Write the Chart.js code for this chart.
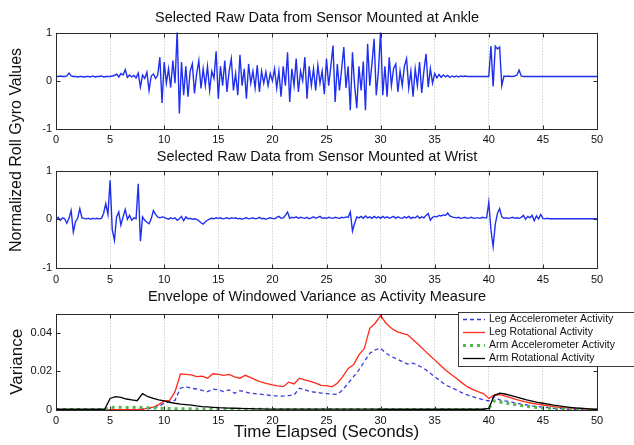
<!DOCTYPE html>
<html><head><meta charset="utf-8">
<script src="https://cdn.jsdelivr.net/npm/chart.js@4.4.1/dist/chart.umd.min.js"></script>
<style>
html,body{margin:0;padding:0;background:#fff;}
body{width:634px;height:445px;position:relative;overflow:hidden;font-family:"Liberation Sans",Arial,sans-serif;}
canvas{position:absolute;left:0;}
#ylab{position:absolute;left:-104px;top:140px;width:240px;height:20px;line-height:20px;text-align:center;transform:rotate(-90deg);transform-origin:50% 50%;white-space:nowrap;font-size:16px;color:#111;}
</style></head>
<body>
<canvas id="c1" width="634" height="150" style="top:0px"></canvas>
<canvas id="c2" width="634" height="142" style="top:146px"></canvas>
<canvas id="c3" width="634" height="157" style="top:288px"></canvas>
<div id="ylab"></div>
<script>
// ---------- data ----------
const titles = ["Selected Raw Data from Sensor Mounted at Ankle",
                "Selected Raw Data from Sensor Mounted at Wrist",
                "Envelope of Windowed Variance as Activity Measure"];
const xTitle = "Time Elapsed (Seconds)";
const yTitleRaw = "Normalized Roll Gyro Values";
const yTitleVar = "Variance";
const rawStep = 0.2;   // seconds between raw samples
const varStep = 0.5;   // seconds between variance samples

// ankle roll gyro, one row per second (t, t+.2, t+.4, t+.6, t+.8)
const ankle = [
 0.09,0.09,0.10,0.09,0.09,
 0.10,0.16,0.10,0.09,0.09,
 0.08,0.09,0.09,0.08,0.09,
 0.09,0.08,0.10,0.08,0.09,
 0.09,0.10,0.08,0.09,0.09,
 0.09,0.10,0.11,0.14,0.08,
 0.15,0.12,0.23,0.07,0.12,
 0.08,0.11,0.06,0.16,-0.13,
 0.12,0.05,0.18,-0.20,0.10,
 0.14,0.05,0.12,0.49,-0.46,
 0.39,-0.05,0.25,-0.14,0.42,
 -0.05,1.05,-0.68,0.39,-0.30,
 0.30,-0.33,0.20,0.35,-0.26,
 0.15,0.42,-0.16,0.25,-0.10,
 0.30,-0.20,0.20,0.05,0.61,
 -0.37,0.30,-0.10,0.42,-0.23,
 0.20,0.46,-0.20,0.15,-0.30,
 0.54,-0.10,0.25,-0.37,0.35,
 -0.05,0.20,-0.15,0.32,-0.23,
 0.20,-0.05,0.18,-0.10,0.15,
 0.00,0.25,-0.15,0.20,-0.33,
 0.30,-0.10,0.59,-0.44,0.25,
 -0.10,0.46,-0.23,0.20,0.00,
 0.49,-0.37,0.30,-0.10,0.25,
 -0.20,0.32,-0.05,0.20,-0.28,
 0.46,-0.10,0.30,0.73,-0.44,
 0.35,-0.20,0.25,0.70,-0.15,
 0.30,-0.61,0.59,-0.10,-0.57,
 0.30,-0.20,0.40,-0.61,0.77,
 -0.10,0.35,0.87,-0.30,0.20,
 1.05,-0.30,0.30,-0.33,0.49,
 -0.10,0.25,0.35,-0.23,0.20,
 -0.10,0.30,0.46,-0.15,0.20,
 -0.33,0.25,-0.10,0.39,-0.25,
 0.20,0.56,-0.13,0.25,-0.05,
 0.15,0.06,0.13,0.07,0.12,
 0.08,0.11,0.07,0.10,0.08,
 0.10,0.08,0.10,0.09,0.10,
 0.09,0.09,0.09,0.09,0.09,
 0.09,0.09,0.09,0.09,0.09,
 0.09,0.72,-0.12,0.72,0.66,
 0.70,-0.10,0.10,0.09,0.10,
 0.09,0.09,0.10,0.12,0.22,
 0.10,0.09,0.09,0.09,0.09,
 0.09,0.09,0.09,0.09,0.09,
 0.09,0.09,0.09,0.09,0.09,
 0.09,0.09,0.09,0.09,0.09,
 0.09,0.09,0.09,0.09,0.09,
 0.09,0.09,0.09,0.09,0.09,
 0.09,0.09,0.09,0.09,0.09,
 0.09
];

// wrist roll gyro, one row per second
const wrist = [
 0.00,0.04,-0.02,0.03,0.01,
 -0.08,0.02,0.18,-0.26,-0.05,
 0.02,0.22,0.03,0.02,0.01,
 0.02,0.00,0.02,0.01,0.02,
 0.01,0.02,0.12,0.32,0.10,
 0.80,-0.22,-0.43,0.05,0.15,
 -0.12,0.05,0.20,0.00,0.08,
 -0.02,0.03,0.01,0.73,-0.45,
 0.05,-0.02,-0.06,-0.09,0.01,
 0.18,0.10,0.05,0.03,0.05,
 0.04,0.02,0.00,0.03,0.01,
 0.03,-0.02,0.01,0.06,-0.03,
 0.05,0.01,0.02,0.00,0.01,
 0.00,-0.03,-0.07,-0.10,-0.05,
 -0.02,0.01,0.02,0.01,0.03,
 0.02,0.03,0.01,0.02,0.03,
 0.01,0.03,0.02,0.03,0.01,
 0.02,0.00,0.02,0.03,0.01,
 0.02,0.03,0.01,0.02,0.04,
 0.01,0.02,0.00,0.02,0.03,
 0.02,0.01,0.04,0.06,0.02,
 0.03,0.08,0.15,0.02,0.04,
 0.03,0.05,0.02,0.04,0.03,
 0.02,0.04,0.01,0.03,0.05,
 0.02,0.04,0.06,0.02,0.03,
 0.02,0.04,0.03,0.02,0.04,
 0.03,0.02,0.04,0.03,0.05,
 0.04,0.15,-0.24,-0.08,0.05,
 0.03,0.06,0.02,0.07,0.03,
 0.05,0.02,0.06,0.03,0.05,
 0.02,0.06,0.03,0.05,0.02,
 0.04,0.06,0.02,0.05,0.03,
 0.02,0.05,0.03,0.06,0.02,
 0.04,0.03,0.07,0.02,0.05,
 0.03,0.08,0.12,-0.02,0.04,
 0.06,0.05,0.08,0.07,0.09,
 0.08,0.13,0.07,0.05,0.04,
 0.03,0.04,0.02,0.03,0.04,
 0.02,0.03,0.04,0.02,0.03,
 0.03,0.02,0.04,0.03,0.03,
 0.35,-0.22,-0.56,-0.10,0.12,
 0.22,0.05,0.02,0.03,0.02,
 0.03,0.04,0.02,0.03,0.02,
 0.04,0.08,0.00,0.06,0.03,
 0.08,-0.03,0.07,0.01,0.10,
 0.02,0.01,0.02,0.01,0.01,
 0.01,0.01,0.01,0.01,0.01,
 0.01,0.01,0.01,0.01,0.01,
 0.01,0.01,0.01,0.01,0.01,
 0.01,0.01,0.01,0.01,0.01,
 0.01
];

// windowed variance envelopes, one row per 5 seconds (0.5 s steps)
const legAcc = [
 0.0001,0.0001,0.0001,0.0001,0.0001,0.0001,0.0001,0.0001,0.0001,0.0001,
 0.0001,0.0001,0.0001,0.0001,0.0001,0.0002,0.0003,0.0006,0.0010,0.0020,
 0.0035,0.0043,0.0050,0.0113,0.0121,0.0113,0.0109,0.0102,0.0095,0.0108,
 0.0105,0.0095,0.0104,0.0087,0.0100,0.0093,0.0087,0.0084,0.0081,0.0078,
 0.0074,0.0073,0.0072,0.0075,0.0078,0.0113,0.0105,0.0095,0.0092,0.0088,
 0.0085,0.0082,0.0081,0.0104,0.0139,0.0173,0.0208,0.0251,0.0294,0.0312,
 0.0320,0.0294,0.0277,0.0265,0.0251,0.0238,0.0243,0.0230,0.0216,0.0195,
 0.0173,0.0152,0.0130,0.0117,0.0104,0.0090,0.0078,0.0069,0.0060,0.0053,
 0.0047,0.0069,0.0052,0.0047,0.0043,0.0035,0.0030,0.0026,0.0021,0.0018,
 0.0014,0.0012,0.0009,0.0007,0.0005,0.0004,0.0003,0.0002,0.0002,0.0001,
 0.0001
];
const legRot = [
 0.0002,0.0002,0.0002,0.0002,0.0002,0.0002,0.0002,0.0002,0.0002,0.0002,
 0.0002,0.0002,0.0002,0.0002,0.0002,0.0003,0.0005,0.0010,0.0015,0.0028,
 0.0047,0.0050,0.0095,0.0187,0.0185,0.0182,0.0173,0.0176,0.0165,0.0188,
 0.0185,0.0180,0.0185,0.0172,0.0165,0.0180,0.0168,0.0155,0.0144,0.0137,
 0.0130,0.0125,0.0121,0.0144,0.0135,0.0165,0.0156,0.0148,0.0139,0.0128,
 0.0126,0.0120,0.0139,0.0173,0.0216,0.0234,0.0286,0.0320,0.0424,0.0450,
 0.0490,0.0450,0.0424,0.0407,0.0398,0.0390,0.0364,0.0340,0.0312,0.0285,
 0.0260,0.0233,0.0208,0.0185,0.0165,0.0142,0.0121,0.0107,0.0095,0.0085,
 0.0060,0.0078,0.0080,0.0072,0.0064,0.0055,0.0047,0.0041,0.0035,0.0030,
 0.0026,0.0022,0.0017,0.0014,0.0012,0.0010,0.0009,0.0007,0.0005,0.0004,
 0.0003
];
const armAcc = [
 0.0003,0.0003,0.0003,0.0003,0.0003,0.0003,0.0003,0.0003,0.0003,0.0003,
 0.0013,0.0015,0.0014,0.0013,0.0012,0.0015,0.0013,0.0012,0.0011,0.0010,
 0.0009,0.0008,0.0007,0.0007,0.0006,0.0006,0.0005,0.0005,0.0005,0.0004,
 0.0004,0.0004,0.0004,0.0004,0.0004,0.0004,0.0004,0.0004,0.0004,0.0004,
 0.0003,0.0003,0.0003,0.0003,0.0003,0.0003,0.0003,0.0003,0.0003,0.0003,
 0.0003,0.0003,0.0003,0.0003,0.0003,0.0003,0.0003,0.0003,0.0003,0.0003,
 0.0003,0.0003,0.0003,0.0003,0.0003,0.0003,0.0003,0.0003,0.0003,0.0003,
 0.0003,0.0003,0.0003,0.0003,0.0003,0.0003,0.0003,0.0003,0.0003,0.0003,
 0.0008,0.0047,0.0042,0.0037,0.0031,0.0027,0.0023,0.0019,0.0016,0.0013,
 0.0011,0.0009,0.0008,0.0006,0.0005,0.0004,0.0004,0.0003,0.0003,0.0003,
 0.0003
];
const armRot = [
 0.0004,0.0004,0.0004,0.0004,0.0004,0.0004,0.0004,0.0004,0.0004,0.0004,
 0.0060,0.0069,0.0065,0.0057,0.0052,0.0048,0.0085,0.0069,0.0060,0.0052,
 0.0047,0.0040,0.0035,0.0031,0.0028,0.0025,0.0021,0.0018,0.0016,0.0014,
 0.0012,0.0011,0.0010,0.0009,0.0008,0.0007,0.0007,0.0006,0.0006,0.0005,
 0.0005,0.0005,0.0005,0.0005,0.0005,0.0005,0.0005,0.0005,0.0005,0.0005,
 0.0005,0.0005,0.0005,0.0005,0.0005,0.0005,0.0005,0.0005,0.0005,0.0005,
 0.0004,0.0004,0.0004,0.0004,0.0004,0.0004,0.0004,0.0004,0.0004,0.0004,
 0.0004,0.0004,0.0004,0.0004,0.0004,0.0004,0.0004,0.0004,0.0004,0.0004,
 0.0008,0.0075,0.0087,0.0083,0.0076,0.0068,0.0060,0.0052,0.0046,0.0040,
 0.0035,0.0030,0.0025,0.0021,0.0017,0.0014,0.0011,0.0009,0.0007,0.0005,
 0.0004
];
const seriesLabels = ["Leg Accelerometer Activity","Leg Rotational Activity",
                      "Arm Accelerometer Activity","Arm Rotational Activity"];

document.getElementById('ylab').textContent = yTitleRaw;

// ---------- drawing ----------
const FONT = '"Liberation Sans", Arial, Helvetica, sans-serif';
const toXY = (arr, step) => arr.map((v, i) => ({x: +(i * step).toFixed(2), y: v}));

const boxPlugin = {
  id: 'matlabBox',
  afterDraw(chart) {
    const {ctx, chartArea: a, scales: {x, y}} = chart;
    ctx.save();
    ctx.strokeStyle = '#2a2a2a'; ctx.lineWidth = 1; ctx.setLineDash([]);
    const L = Math.round(a.left) + 0.5, T = Math.round(a.top) + 0.5,
          R = Math.round(a.right) + 0.5, B = Math.round(a.bottom) + 0.5;
    ctx.strokeRect(L, T, R - L, B - T);
    ctx.beginPath();
    x.ticks.forEach(t => {
      const px = Math.round(x.getPixelForValue(t.value)) + 0.5;
      ctx.moveTo(px, B); ctx.lineTo(px, B - 4);
      ctx.moveTo(px, T); ctx.lineTo(px, T + 4);
    });
    y.ticks.forEach(t => {
      const py = Math.round(y.getPixelForValue(t.value)) + 0.5;
      ctx.moveTo(L, py); ctx.lineTo(L + 4, py);
      ctx.moveTo(R, py); ctx.lineTo(R - 4, py);
    });
    ctx.stroke();
    ctx.restore();
  }
};

const legendPlugin = {
  id: 'innerLegend',
  afterDraw(chart) {
    const ctx = chart.ctx;
    const x0 = 458, y0 = 24, h = 54;
    ctx.save();
    ctx.fillStyle = '#fff'; ctx.fillRect(x0, y0, 220, h);
    ctx.strokeStyle = '#3a3a3a'; ctx.lineWidth = 1; ctx.setLineDash([]);
    ctx.strokeRect(x0 + 0.5, y0 + 0.5, 220, h);
    chart.data.datasets.forEach((ds, i) => {
      const yy = y0 + 7.5 + i * 13;
      ctx.strokeStyle = ds.borderColor; ctx.lineWidth = ds.borderWidth;
      ctx.setLineDash(ds.borderDash || []);
      ctx.beginPath(); ctx.moveTo(x0 + 5, yy); ctx.lineTo(x0 + 27, yy); ctx.stroke();
      ctx.setLineDash([]);
      ctx.fillStyle = '#111'; ctx.font = '10.5px ' + FONT; ctx.textBaseline = 'middle';
      ctx.fillText(ds.label, x0 + 31, yy);
    });
    ctx.restore();
  }
};

function makeOptions(c) {
  return {
    responsive: false, animation: false, events: [],
    layout: {padding: 0},
    plugins: {
      legend: {display: false}, tooltip: {enabled: false},
      title: {display: true, text: c.title, color: '#111',
              font: {family: FONT, size: 14.5, weight: 'normal', lineHeight: 1.2},
              padding: {top: c.tpt, bottom: c.tpb}}
    },
    scales: {
      x: {type: 'linear', min: 0, max: 50,
          ticks: {stepSize: 5, color: '#111', font: {family: FONT, size: 11}, padding: c.xpad,
                  maxRotation: 0, autoSkip: false},
          grid: {display: true, drawTicks: false, color: '#bdbdbd', lineWidth: 1},
          border: {display: false, dash: [1, 2]},
          title: c.xtitle ? {display: true, text: c.xtitle, color: '#111',
                 font: {family: FONT, size: 17}, padding: {top: 0, bottom: 2}} : {display: false},
          afterFit(s) { s.height = c.xh; }},
      y: {type: 'linear', min: c.ymin, max: c.ymax, position: 'left',
          ticks: {stepSize: c.ystep, color: '#111', font: {family: FONT, size: 11}, padding: 4,
                  callback: c.ycb},
          grid: {display: false, drawTicks: false},
          border: {display: false},
          title: c.ytitle ? {display: true, text: c.ytitle, color: '#111',
                 font: {family: FONT, size: 17}, padding: {top: 7, bottom: 0}} : {display: false},
          afterBuildTicks: c.ytf || undefined,
          afterFit(s) { s.width = 56; }},
      yr: {type: 'linear', position: 'right', display: true,
           ticks: {display: false}, grid: {display: false, drawTicks: false}, border: {display: false},
           afterFit(s) { s.width = 37; }}
    }
  };
}

const rawLine = (data) => ({
  data: toXY(data, rawStep), yAxisID: 'y', borderColor: '#1f2ff0', borderWidth: 1.4,
  pointRadius: 0, tension: 0, fill: false
});

new Chart(document.getElementById('c1'), {
  type: 'line',
  data: {datasets: [Object.assign({label: 'Ankle'}, rawLine(ankle))]},
  options: makeOptions({title: titles[0], tpt: 9, tpb: 6.2, xh: 21, xpad: 4,
                        ymin: -1, ymax: 1, ystep: 1}),
  plugins: [boxPlugin]
});

new Chart(document.getElementById('c2'), {
  type: 'line',
  data: {datasets: [Object.assign({label: 'Wrist'}, rawLine(wrist))]},
  options: makeOptions({title: titles[1], tpt: 2.6, tpb: 4.6, xh: 20, xpad: 5,
                        ymin: -1, ymax: 1, ystep: 1}),
  plugins: [boxPlugin]
});

const varSet = (label, data, color, width, dash, order) => ({
  label, data: toXY(data, varStep), yAxisID: 'y', borderColor: color, borderWidth: width,
  borderDash: dash, pointRadius: 0, tension: 0, fill: false, order
});

new Chart(document.getElementById('c3'), {
  type: 'line',
  data: {datasets: [
    varSet(seriesLabels[0], legAcc, '#3a3ae0', 1.3, [4, 3], 4),
    varSet(seriesLabels[1], legRot, '#ff2a1a', 1.3, [], 3),
    varSet(seriesLabels[2], armAcc, '#4fb84f', 3, [3, 4], 2),
    varSet(seriesLabels[3], armRot, '#000000', 1.3, [], 1)
  ]},
  options: makeOptions({title: titles[2], tpt: 0.5, tpb: 7.7, xh: 35, xpad: 4,
                        xtitle: xTitle, ytitle: yTitleVar,
                        ymin: 0, ymax: 0.05, ystep: 0.02,
                        ycb: v => (v === 0 ? '0' : v.toFixed(2)),
                        ytf: s => { s.ticks = s.ticks.filter(t => Math.abs(t.value / 0.02 - Math.round(t.value / 0.02)) < 1e-6); }}),
  plugins: [boxPlugin, legendPlugin]
});
</script>
</body></html>
